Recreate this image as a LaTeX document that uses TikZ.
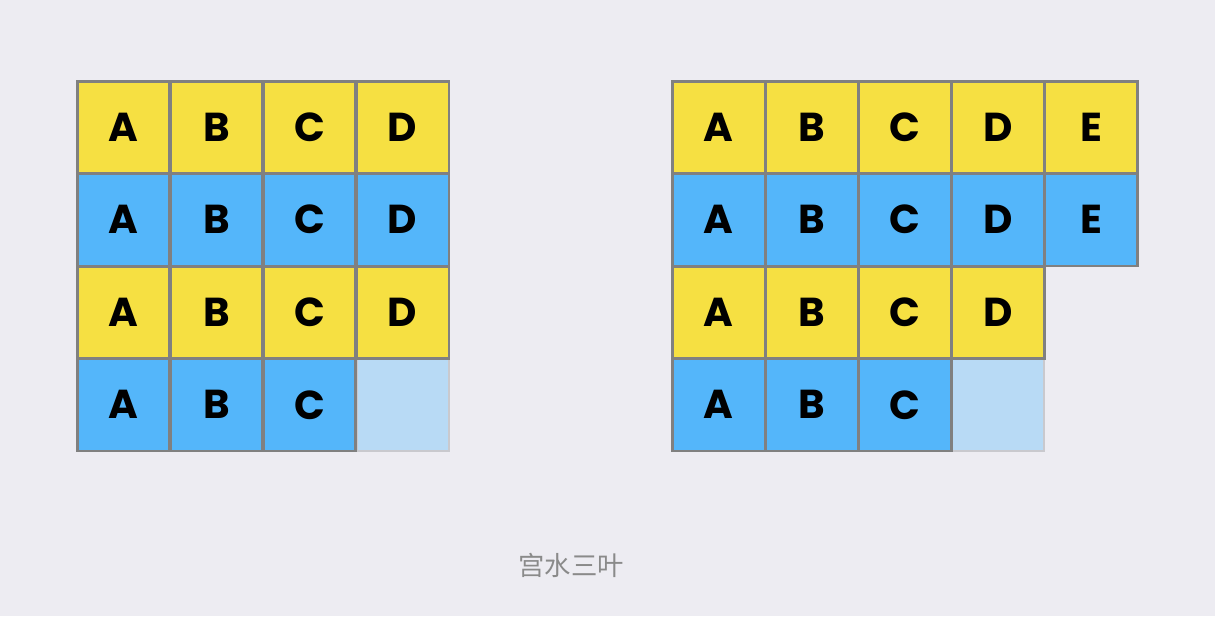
\documentclass[tikz,border=0pt]{standalone}
\usepackage{fontspec}
\setmainfont{Poppins}
\newfontfamily\cjk{Noto Sans CJK SC}

\definecolor{bgcol}{HTML}{EDECF2}
\definecolor{cellyellow}{HTML}{F6E042}
\definecolor{cellblue}{HTML}{54B6FA}
\definecolor{emptyblue}{HTML}{B8DAF5}
\definecolor{linegray}{HTML}{808080}
\definecolor{emptygray}{HTML}{C9C9CE}
\definecolor{markgray}{HTML}{8A8A8A}

\tikzset{
	cell/.style={draw=linegray, line width=1.7pt, minimum width=1.86cm,
		minimum height=1.85cm, inner sep=0pt,
		font=\fontsize{23}{23}\selectfont\bfseries},
	emptycell/.style={cell, draw=emptygray, fill=emptyblue}
}

\begin{document}
\begin{tikzpicture}[x=0.02cm, y=-0.02cm]
	% background
	\fill[bgcol] (0,0) rectangle (1215,616);

	% --- left grid (4 columns)
	\node[emptycell] (lempty) at ({77+46.5+93*3}, {81+46.25+92.5*3}) {};
	\foreach \r/\fc/\cols in {
		0/cellyellow/{A,B,C,D},
		1/cellblue/{A,B,C,D},
		2/cellyellow/{A,B,C,D},
		3/cellblue/{A,B,C}}
	\foreach \t [count=\c from 0] in \cols
		\node[cell, fill=\fc] (l\r\c) at ({77+46.5+93*\c}, {81+46.25+92.5*\r}) {\t};

	% --- right grid (5 columns on top)
	\node[emptycell] (rempty) at ({672+46.5+93*3}, {81+46.25+92.5*3}) {};
	\foreach \r/\fc/\cols in {
		0/cellyellow/{A,B,C,D,E},
		1/cellblue/{A,B,C,D,E},
		2/cellyellow/{A,B,C,D},
		3/cellblue/{A,B,C}}
	\foreach \t [count=\c from 0] in \cols
		\node[cell, fill=\fc] (r\r\c) at ({672+46.5+93.2*\c}, {81+46.25+92.5*\r}) {\t};

	% watermark
	\node[text=markgray, font=\cjk\fontsize{15}{15}\selectfont] (mark) at (571,565) {宫水三叶};
\end{tikzpicture}
\end{document}
